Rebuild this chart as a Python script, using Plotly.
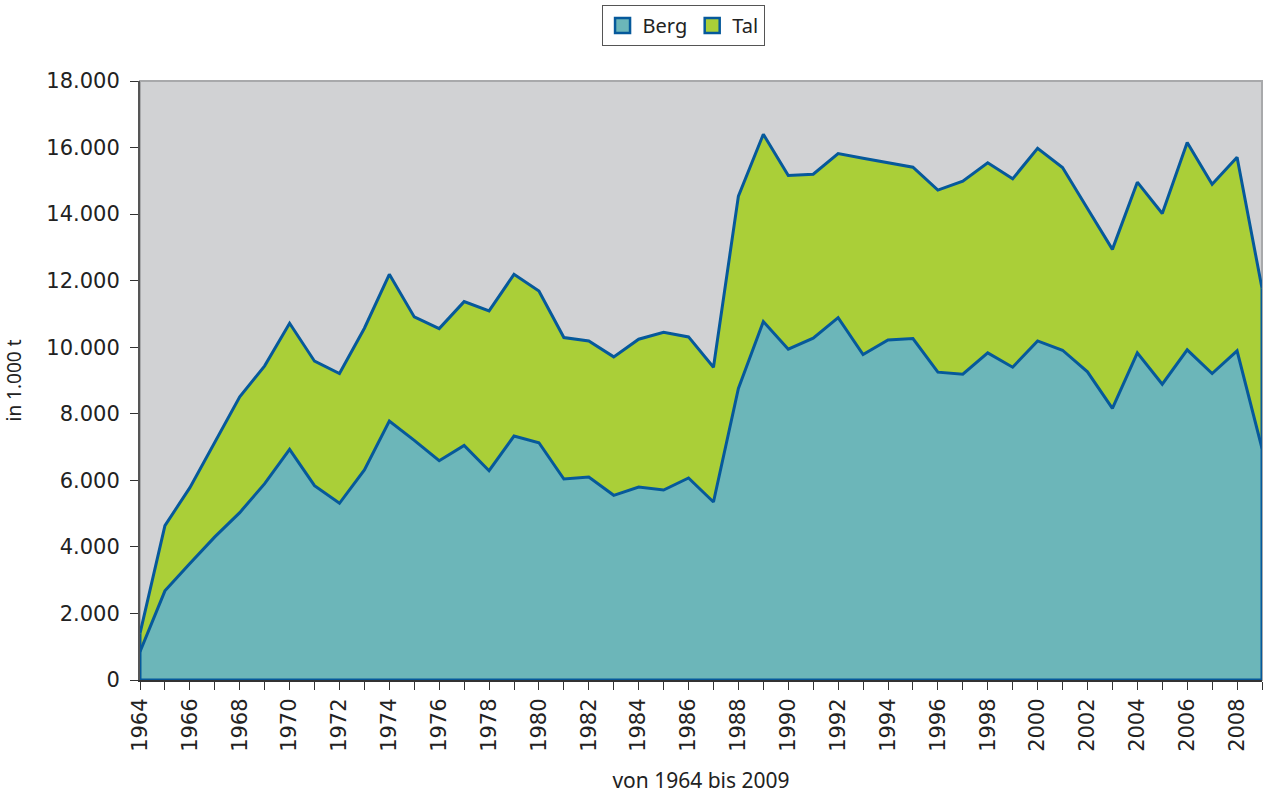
import plotly.graph_objects as go

years = list(range(1964, 2010))
berg = [850, 2680, 3500, 4300, 5030, 5900, 6930, 5840, 5310, 6310, 7780, 7200, 6590, 7050, 6290, 7330,
        7130, 6040, 6100, 5550, 5800, 5710, 6070, 5350, 8760, 10770, 9940, 10270, 10890, 9780, 10220,
        10260, 9250, 9190, 9830, 9400, 10190, 9910, 9260, 8160, 9830, 8890, 9920, 9210, 9890, 6960]
tal = [550, 1960, 2280, 2860, 3480, 3540, 3790, 3740, 3900, 4260, 4410, 3710, 3970, 4320, 4800, 4860,
       4560, 4250, 4090, 4160, 4440, 4740, 4240, 4050, 5780, 5630, 5220, 4930, 4930, 5900, 5320,
       5150, 5470, 5800, 5710, 5660, 5790, 5490, 4910, 4780, 5130, 5130, 6230, 5690, 5820, 4810]
series_names = ["Berg", "Tal"]

LINE = "#06599B"
C_BERG = "#6CB6B9"
C_TAL = "#AACF38"
TICKFONT = "DejaVu Sans"
TXTFONT = "Noto Sans"
LW = 3

total = [b + t for b, t in zip(berg, tal)]

fig = go.Figure()
fig.add_trace(go.Scatter(x=years, y=berg, name=series_names[0], stackgroup="one", mode="lines",
                         line=dict(color=LINE, width=LW), fillcolor=C_BERG, showlegend=False))
fig.add_trace(go.Scatter(x=years, y=tal, name=series_names[1], stackgroup="one", mode="lines",
                         line=dict(color=LINE, width=LW), fillcolor=C_TAL, showlegend=False))
# area outlines at the left and right edges and along the base
for xe in (years[0], years[-1]):
    i = years.index(xe)
    fig.add_trace(go.Scatter(x=[xe, xe], y=[0, total[i]], mode="lines", showlegend=False,
                             hoverinfo="skip", cliponaxis=False,
                             line=dict(color=LINE, width=LW)))
fig.add_trace(go.Scatter(x=[years[0], years[-1]], y=[0, 0], mode="lines", showlegend=False,
                         hoverinfo="skip", cliponaxis=False, line=dict(color=LINE, width=LW)))
# legend entries as square swatches
for name, col in zip(series_names, (C_BERG, C_TAL)):
    fig.add_trace(go.Scatter(x=[None], y=[None], mode="markers", name=name,
                             marker=dict(symbol="square", size=15, color=col,
                                         line=dict(color=LINE, width=2.5))))

fig.update_layout(
    width=1264, height=796,
    margin=dict(l=140, r=2, t=81, b=116),
    paper_bgcolor="white", plot_bgcolor="#D1D2D4",
    separators=",.",
    showlegend=True,
    legend=dict(orientation="h", x=0.484, xanchor="center", y=1.127, yanchor="top",
                bordercolor="#555555", borderwidth=1, bgcolor="white",
                font=dict(family=TXTFONT, size=20, color="#222222"),
                itemwidth=30, tracegroupgap=0, traceorder="normal"),
    shapes=[dict(type="rect", xref="paper", yref="paper", x0=0, x1=1, y0=0, y1=1,
                 line=dict(color="#A8A9AB", width=2), layer="below")],
)

fig.update_xaxes(
    range=[years[0], years[-1]], tick0=1964, dtick=2, tickangle=-90,
    ticks="outside", ticklen=8, tickcolor="#333333",
    minor=dict(dtick=1, ticks="outside", ticklen=8, tickcolor="#333333"),
    showgrid=False, zeroline=False, showline=True, linecolor="#333333", linewidth=2,
    tickfont=dict(family=TICKFONT, size=21, color="#222222"),
    title=dict(text="von 1964 bis 2009", font=dict(family=TXTFONT, size=21, color="#222222"),
               standoff=22),
)
fig.update_yaxes(
    range=[0, 18000], dtick=2000, tickformat=",d",
    ticks="outside", ticklen=8, tickcolor="#333333", ticklabelstandoff=6,
    showgrid=False, zeroline=False, showline=True, linecolor="#555555", linewidth=2,
    tickfont=dict(family=TICKFONT, size=21, color="#222222"),
    title=dict(text="in 1.000 t", font=dict(family=TXTFONT, size=19, color="#222222"),
               standoff=20),
)

fig.write_html("out.html", config={"displayModeBar": False},
               post_script="document.body.style.margin='0px';document.body.style.overflow='hidden';")
